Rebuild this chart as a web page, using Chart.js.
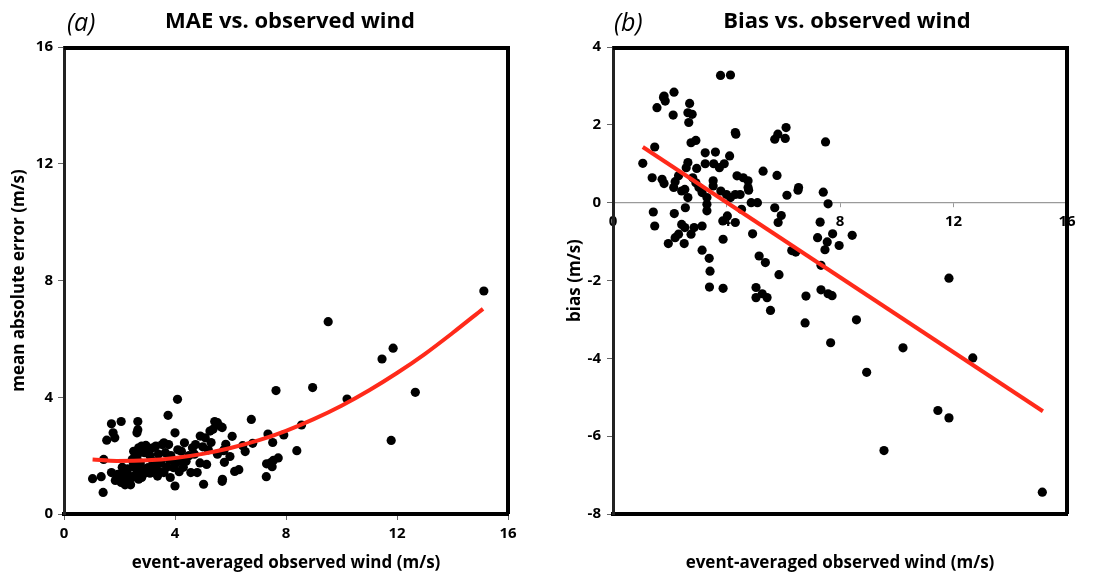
<!DOCTYPE html>
<html>
<head>
<meta charset="utf-8">
<script src="https://cdn.jsdelivr.net/npm/chart.js@4.4.1/dist/chart.umd.min.js"></script>
<style>
  html, body { margin: 0; padding: 0; background: #fff; }
  #wrap { position: relative; width: 1104px; height: 577px; }
  canvas { position: absolute; top: 0; }
  #maeChart { left: 0; }
  #biasChart { left: 552px; }
</style>
</head>
<body>
<div id="wrap">
  <canvas id="maeChart" width="552" height="577"></canvas>
  <canvas id="biasChart" width="552" height="577"></canvas>
</div>
<script>
// --- data: [event-averaged observed wind, value] ---
const maePoints = [
  [15.13,7.64],[9.52,6.59],[11.86,5.68],[11.46,5.31],[7.64,4.23],[8.96,4.33],[12.66,4.17],[10.20,3.94],
  [11.79,2.52],[8.56,3.05],[8.39,2.17],[6.75,3.24],[5.70,2.96],[5.53,3.13],[6.06,2.66],[7.35,2.74],
  [7.92,2.71],[7.52,2.45],[6.80,2.42],[6.53,2.14],[6.44,2.34],[5.83,2.39],[5.75,2.17],[5.98,1.97],
  [5.78,1.77],[6.15,1.46],[6.30,1.52],[5.70,1.12],[7.29,1.28],[7.30,1.72],[7.45,1.76],[7.55,1.84],
  [7.72,1.92],[7.50,1.62],[5.53,2.05],
  [4.09,3.93],[3.75,3.38],[2.06,3.17],[1.71,3.09],[2.66,3.17],[1.77,2.78],[1.54,2.53],[1.83,2.61],
  [2.63,2.78],[2.66,2.89],[4.00,2.78],[1.03,1.21],[1.34,1.28],[1.41,0.74],[1.43,1.87],[1.71,1.42],
  [1.89,1.19],[2.06,1.08],[2.17,1.19],[2.34,1.13],[2.46,1.25],[2.69,1.19],[1.94,1.36],[2.11,1.42],
  [2.20,1.00],[2.40,1.00],[2.55,1.32],[2.80,1.25],[2.00,1.30],[2.30,1.35],
  [2.51,2.15],[2.69,2.27],[2.80,2.33],[2.63,1.98],[2.46,1.87],[2.60,2.05],[2.90,2.10],[2.75,1.75],
  [2.55,1.60],[2.85,1.55],[2.70,2.10],[2.85,2.20],[2.95,2.35],[2.50,1.75],[2.65,1.50],[2.90,1.40],
  [2.30,1.55],[2.10,1.60],[1.85,1.15],[2.25,1.25],
  [3.03,2.27],[3.20,2.27],[3.31,2.33],[3.54,2.38],[3.77,2.38],[3.60,2.44],[3.10,2.00],[3.40,2.05],
  [3.65,2.10],[3.85,2.00],[3.03,1.59],[3.20,1.53],[3.37,1.30],[3.60,1.42],[3.83,1.25],[3.94,1.59],
  [3.20,1.80],[3.50,1.75],[3.80,1.85],[3.10,1.40],[3.30,1.60],[3.45,1.45],[3.70,1.60],
  [4.00,0.96],[4.23,2.15],[4.34,2.44],[4.57,1.42],[4.80,1.42],[5.03,1.02],[5.14,1.70],[5.43,3.17],
  [5.71,1.19],[5.26,2.84],[5.09,2.61],[4.91,2.67],[4.74,2.38],[4.63,2.27],[5.66,2.99],[5.37,2.90],
  [4.40,1.81],[4.17,1.81],[5.77,2.20],[4.50,2.00],[4.70,2.05],[5.00,2.30],[4.30,1.60],[4.90,1.75],
  [5.30,2.45],[5.20,2.20],[4.10,2.20],[4.00,1.70],[4.15,1.45]
];
const maeFitWind   = [1.03, 1.9, 3.0, 4.0, 5.0, 6.0, 7.0, 8.0, 9.0, 10.0, 11.0, 12.0, 13.0, 14.0, 15.1];
const maeFitValues = [1.87, 1.82, 1.84, 1.92, 2.06, 2.26, 2.52, 2.85, 3.25, 3.71, 4.24, 4.83, 5.48, 6.20, 7.03];

const biasPoints = [
  [1.05,1.01],[1.38,0.64],[1.47,1.43],[1.42,-0.24],[1.47,-0.60],[1.55,2.44],[1.78,2.70],[1.84,2.61],
  [1.80,2.74],[2.15,2.84],[2.12,2.25],[1.73,0.60],[1.80,0.49],[2.14,0.39],[2.19,0.54],[2.31,0.69],
  [2.16,-0.28],[1.95,-1.05],[2.19,-0.90],[2.31,-0.81],[2.51,-1.05],[2.42,-0.56],[2.53,-0.64],[2.75,-0.81],
  [2.86,-0.64],[3.14,-0.60],[2.55,-0.13],[2.64,0.13],[2.53,0.34],[2.42,0.30],[2.70,2.55],[2.64,2.31],
  [2.79,2.27],[2.67,2.06],[2.75,1.54],[2.92,1.60],[2.58,0.90],[2.64,1.03],[2.95,0.88],[3.25,1.00],
  [3.55,1.00],[3.25,1.28],[3.61,1.30],[3.75,0.90],[3.92,1.00],[4.11,1.20],
  [2.81,0.64],[2.92,0.51],[3.03,0.39],[3.14,0.26],[3.31,0.13],
  [3.53,0.56],[3.53,0.43],[3.31,-0.04],[3.31,-0.21],[3.14,-1.22],[3.39,-1.43],[3.42,-1.76],[3.40,-2.17],
  [3.88,-2.20],[3.88,-0.94],[3.87,-0.47],[4.03,-0.34],[3.80,0.30],[4.00,0.21],[4.14,0.13],[3.79,3.27],
  [4.14,3.28],[4.31,1.80],[4.33,1.76],[4.31,-0.51],[4.37,0.69],[4.59,0.64],[4.76,0.56],[4.76,0.39],
  [4.31,0.21],[4.48,0.21],[4.53,-0.17],[4.87,0.00],[5.09,0.00],[4.78,0.32],[4.92,-0.80],[5.15,-1.37],
  [5.37,-1.54],[5.04,-2.18],[5.04,-2.44],[5.26,-2.34],[5.43,-2.44],[5.29,0.81],[5.78,0.70],[5.70,1.63],
  [5.81,1.76],[6.07,1.65],[6.10,1.93],[6.54,0.39],[7.49,1.56],
  [6.13,0.19],[6.52,0.32],[7.41,0.27],[7.58,-0.03],[5.70,-0.13],[5.93,-0.33],[5.82,-0.51],[7.30,-0.50],
  [7.21,-0.90],[7.74,-0.80],[7.55,-1.01],[7.47,-1.21],[7.97,-1.10],[8.43,-0.84],[6.30,-1.23],[6.44,-1.27],
  [5.85,-1.85],[7.33,-1.61],[7.33,-2.24],[7.58,-2.34],[7.72,-2.39],[5.55,-2.77],[6.80,-2.40],[6.77,-3.09],
  [8.58,-3.01],[7.67,-3.60],[8.94,-4.36],[10.22,-3.73],[11.84,-1.94],[12.68,-3.99],[11.45,-5.34],
  [11.84,-5.53],[9.55,-6.37],[15.13,-7.44]
];
const biasFitWind   = [1.05, 15.15];
const biasFitValues = [1.43, -5.36];

// Chart Defaults
Chart.defaults.font.family = "'Open Sans', 'DejaVu Sans', sans-serif";
Chart.defaults.color = '#000';

const RED = '#ff2a1a';
const tickFont = { size: 15, weight: 'bold' };
const axisTitleFont = { size: 17, weight: 'bold' };

const toXY = (xs, ys) => xs.map((x, i) => ({ x, y: ys[i] }));
const pairsToXY = pairs => pairs.map(p => ({ x: p[0], y: p[1] }));

// panel tag, title and the heavy frame on top/right
const panelDecor = {
    id: 'panelDecor',
    afterDraw(chart, args, opts) {
        const { ctx, chartArea: a } = chart;
        ctx.save();
        ctx.strokeStyle = '#000';
        ctx.lineWidth = 4;
        ctx.beginPath();
        ctx.moveTo(a.left, a.top + 1);
        ctx.lineTo(a.right, a.top + 1);
        ctx.lineTo(a.right, a.bottom);
        ctx.stroke();

        ctx.fillStyle = '#000';
        ctx.textBaseline = 'alphabetic';
        ctx.textAlign = 'left';
        ctx.font = "italic 25px 'Open Sans'";
        ctx.fillText(opts.tag, a.left + opts.tagDx, 31);
        ctx.textAlign = 'center';
        ctx.font = "bold 22px 'Open Sans'";
        ctx.fillText(opts.title, (a.left + a.right) / 2 + opts.titleDx, 28);
        ctx.restore();
    }
};

// ─── (a) MAE vs. observed wind ───
new Chart(document.getElementById('maeChart'), {
    type: 'scatter',
    data: {
        datasets: [
            { data: toXY(maeFitWind, maeFitValues), showLine: true, borderColor: RED, borderWidth: 4,
              pointRadius: 0, cubicInterpolationMode: 'monotone', order: 0 },
            { data: pairsToXY(maePoints), pointBackgroundColor: '#000', pointBorderWidth: 0,
              pointRadius: 4.6, order: 1 }
        ]
    },
    options: {
        responsive: false, animation: false,
        layout: { padding: { top: 47, right: 44, left: 0, bottom: 0 } },
        plugins: {
            legend: { display: false }, tooltip: { enabled: false },
            panelDecor: { tag: '(a)', tagDx: 3, title: 'MAE vs. observed wind', titleDx: 4 }
        },
        scales: {
            x: {
                type: 'linear', min: 0, max: 16,
                afterFit: s => { s.height = 63; },
                ticks: { stepSize: 4, font: tickFont, color: '#000', padding: 5 },
                grid: { drawOnChartArea: false, tickLength: 6, color: '#666' },
                border: { color: '#000', width: 4 },
                title: { display: true, text: 'event-averaged observed wind (m/s)', font: axisTitleFont,
                         color: '#000', padding: { top: 0, bottom: 4 } }
            },
            y: {
                type: 'linear', min: 0, max: 16,
                afterFit: s => { s.width = 64; },
                ticks: { stepSize: 4, font: tickFont, color: '#000', padding: 5 },
                grid: { drawOnChartArea: false, tickLength: 6, color: '#666' },
                border: { color: '#222', width: 3 },
                title: { display: true, text: 'mean absolute error (m/s)', font: { size: 17, weight: 'bold' },
                         color: '#000', padding: { top: 9, bottom: 0 } }
            }
        }
    },
    plugins: [panelDecor]
});

// ─── (b) Bias vs. observed wind ───
new Chart(document.getElementById('biasChart'), {
    type: 'scatter',
    data: {
        datasets: [
            { data: toXY(biasFitWind, biasFitValues), showLine: true, borderColor: RED, borderWidth: 4,
              pointRadius: 0, order: 0 },
            { data: pairsToXY(biasPoints), pointBackgroundColor: '#000', pointBorderWidth: 0,
              pointRadius: 4.6, order: 1 }
        ]
    },
    options: {
        responsive: false, animation: false,
        layout: { padding: { top: 47, right: 37, left: 0, bottom: 0 } },
        plugins: {
            legend: { display: false }, tooltip: { enabled: false },
            panelDecor: { tag: '(b)', tagDx: 1, title: 'Bias vs. observed wind', titleDx: 7 }
        },
        scales: {
            x: {
                type: 'linear', min: 0, max: 16, position: { y: 0 },
                afterFit: s => { s.height = 0; },
                ticks: { stepSize: 4, font: tickFont, color: '#000', padding: 6 },
                grid: { drawOnChartArea: false, tickLength: 4, color: '#999' },
                border: { color: '#9a9a9a', width: 1.2 }
            },
            x2: {
                type: 'linear', axis: 'x', position: 'bottom', min: 0, max: 16,
                afterFit: s => { s.height = 63; },
                ticks: { display: false },
                grid: { display: false },
                border: { color: '#000', width: 4 },
                title: { display: true, text: 'event-averaged observed wind (m/s)', font: axisTitleFont,
                         color: '#000', padding: { top: 0, bottom: 4 } }
            },
            y: {
                type: 'linear', min: -8, max: 4,
                afterFit: s => { s.width = 61; },
                ticks: { stepSize: 2, font: tickFont, color: '#000', padding: 6 },
                grid: { drawOnChartArea: false, tickLength: 6, color: '#666' },
                border: { color: '#222', width: 3 },
                title: { display: true, text: 'bias (m/s)', font: { size: 17, weight: 'bold' },
                         color: '#000', padding: { top: 13, bottom: 0 } }
            }
        }
    },
    plugins: [panelDecor]
});
</script>
</body>
</html>
